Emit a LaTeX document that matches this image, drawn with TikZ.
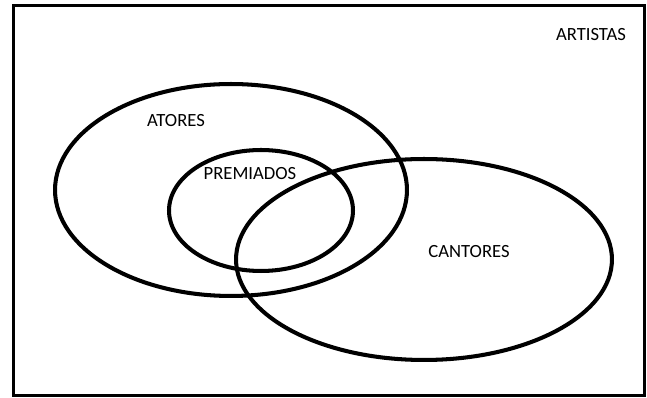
\documentclass[tikz,border=0pt]{standalone}
\usepackage{fontspec}
\setmainfont{Carlito}
\usetikzlibrary{shapes.geometric}
\usetikzlibrary{positioning}
\tikzstyle{conjunto} = [ellipse, draw=black, line width=2.3pt, inner sep=0pt]
\tikzstyle{rotulo} = [font=\fontsize{10.6}{12}\selectfont, inner sep=0pt]

\begin{document}
\begin{tikzpicture}[x=0.02cm, y=-0.02cm]
 \useasboundingbox (0,0) rectangle (647,398);
 \node (artistas) [draw=black, line width=2pt, minimum width=12.62cm, minimum height=7.8cm, inner sep=0pt] at (329,200.5) {};
 \node (atores) [conjunto, minimum width=7.04cm, minimum height=4.24cm] at (231,190) {};
 \node (premiados) [conjunto, minimum width=3.68cm, minimum height=2.42cm] at (261,210.5) {};
 \node (cantores) [conjunto, minimum width=7.52cm, minimum height=4.02cm] at (424,259.5) {};

 \node (lartistas) [rotulo] at (591,35) {ARTISTAS};
 \node (latores) [rotulo] at (176,121) {ATORES};
 \node (lpremiados) [rotulo] at (250,174) {PREMIADOS};
 \node (lcantores) [rotulo] at (469,252) {CANTORES};
\end{tikzpicture}
\end{document}
